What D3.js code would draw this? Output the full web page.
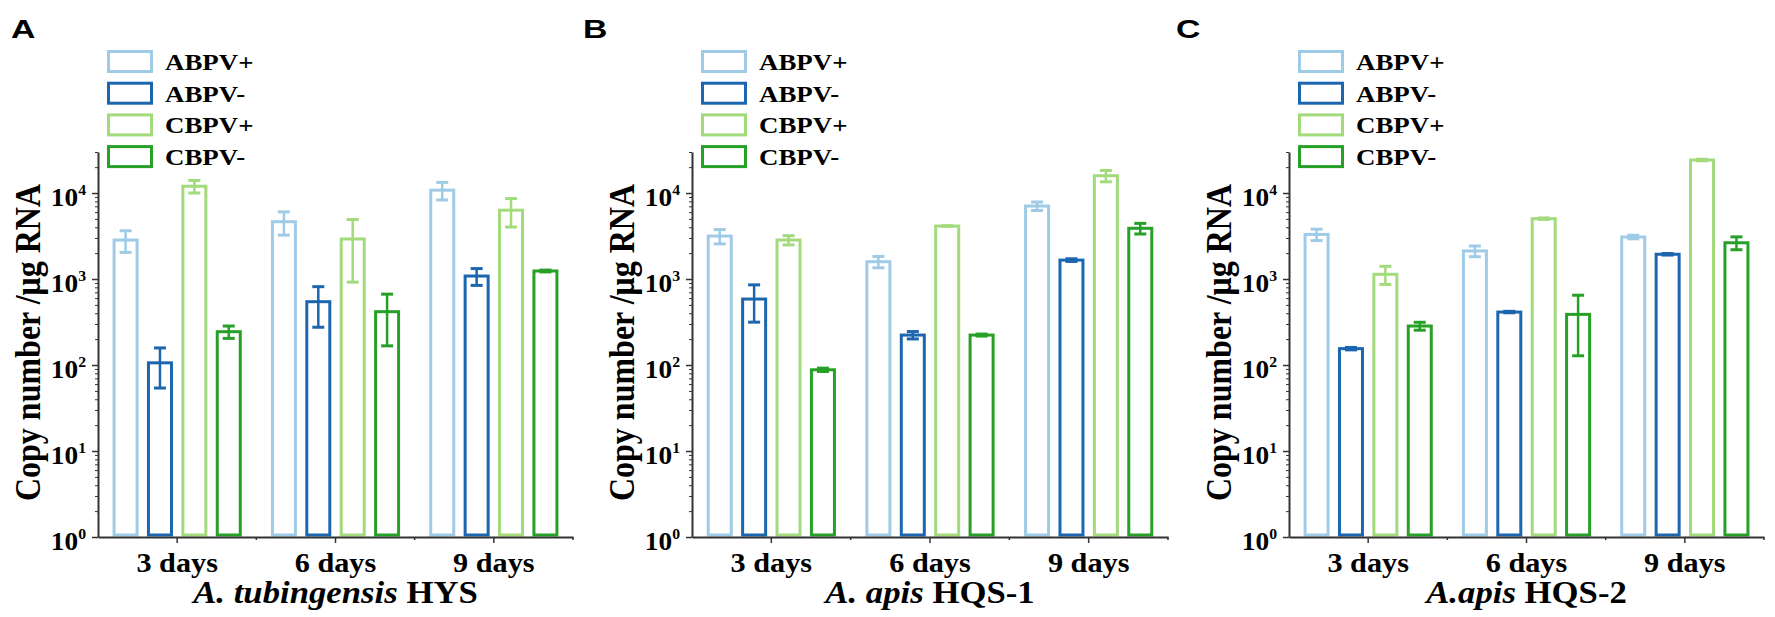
<!DOCTYPE html>
<html>
<head>
<meta charset="utf-8">
<script src="https://cdn.jsdelivr.net/npm/d3@7"></script>
<style>
  html, body { margin: 0; padding: 0; background: #fff; }
  svg { display: block; }
</style>
</head>
<body>
<svg id="chart" width="1775" height="617"></svg>
<script>
// ---------- DATA ----------
const categories = ["3 days", "6 days", "9 days"];
const series = ["ABPV+", "ABPV-", "CBPV+", "CBPV-"];
const panelLetters = ["A", "B", "C"];
const titleItalic = ["A. tubingensis", "A. apis", "A.apis"];
const titleNormal = [" HYS", " HQS-1", " HQS-2"];
const yTickValues = [1, 10, 100, 1000, 10000];
const yTickExponents = ["0", "1", "2", "3", "4"];

// Panel A: A. tubingensis HYS
const A_ABPVplus  = [2840, 4640, 10800];
const A_ABPVminus = [106, 545, 1083];
const A_CBPVplus  = [12000, 2920, 6320];
const A_CBPVminus = [244, 417, 1240];
const A_ABPVplus_sd  = [800, 1400, 2500];
const A_ABPVminus_sd = [52, 270, 240];
const A_CBPVplus_sd  = [2000, 2000, 2300];
const A_CBPVminus_sd = [40, 250, 30];

// Panel B: A. apis HQS-1
const B_ABPVplus  = [3160, 1590, 7060];
const B_ABPVminus = [585, 223, 1660];
const B_CBPVplus  = [2840, 4130, 15900];
const B_CBPVminus = [88, 223, 3890];
const B_ABPVplus_sd  = [600, 240, 800];
const B_ABPVminus_sd = [270, 22, 60];
const B_CBPVplus_sd  = [350, 20, 2400];
const B_CBPVminus_sd = [4, 6, 550];

// Panel C: A.apis HQS-2
const C_ABPVplus  = [3300, 2120, 3080];
const C_ABPVminus = [155, 413, 1940];
const C_CBPVplus  = [1135, 5030, 24200];
const C_CBPVminus = [284, 388, 2640];
const C_ABPVplus_sd  = [500, 300, 150];
const C_ABPVminus_sd = [5, 8, 40];
const C_CBPVplus_sd  = [270, 100, 500];
const C_CBPVminus_sd = [30, 260, 450];

// ---------- STYLE ----------
const colors = { "ABPV+": "#9fcbe6", "ABPV-": "#1c66b0", "CBPV+": "#a3da7c", "CBPV-": "#26a026" };
const serif = "'Liberation Serif', 'Times New Roman', serif";
const sans = "'Liberation Sans', Arial, sans-serif";
const SX = 1.12;
const axisColor = "#333";

const panels = [
  { means: [A_ABPVplus, A_ABPVminus, A_CBPVplus, A_CBPVminus], sds: [A_ABPVplus_sd, A_ABPVminus_sd, A_CBPVplus_sd, A_CBPVminus_sd], x0: 98, x1: 573, letterX: 11 },
  { means: [B_ABPVplus, B_ABPVminus, B_CBPVplus, B_CBPVminus], sds: [B_ABPVplus_sd, B_ABPVminus_sd, B_CBPVplus_sd, B_CBPVminus_sd], x0: 692, x1: 1168, letterX: 583 },
  { means: [C_ABPVplus, C_ABPVminus, C_CBPVplus, C_CBPVminus], sds: [C_ABPVplus_sd, C_ABPVminus_sd, C_CBPVplus_sd, C_CBPVminus_sd], x0: 1289, x1: 1764, letterX: 1176 }
];

const svg = d3.select("#chart");
const y = d3.scaleLog().domain([1, 30000]).range([537, 152]);

function stext(parent, x, yy, sx, anchor, size, weight, fam) {
  const g = parent.append("g").attr("transform", `translate(${x},${yy}) scale(${sx},1)`);
  return g.append("text").attr("text-anchor", anchor).attr("font-size", size)
    .attr("font-weight", weight).attr("font-family", fam).attr("fill", "#000");
}

// minor ticks
const minorTicks = [];
for (let d = 1; d <= 10000; d *= 10) for (let k = 2; k <= 9; k++) if (d * k <= 30000) minorTicks.push(d * k);

panels.forEach((p, pi) => {
  const g = svg.append("g");
  const xCat = d3.scaleBand().domain(categories).range([p.x0, p.x1]);
  const xSub = d3.scaleBand().domain(series).range([-68.8, 68.8]).paddingInner(0.244).paddingOuter(0.122);
  const bw = xSub.bandwidth();

  // bars
  series.forEach((s, si) => {
    const rows = categories.map((c, ci) => ({ c, v: p.means[si][ci], sd: p.sds[si][ci] }));
    const cx = d => xCat(d.c) + xCat.bandwidth() / 2 + xSub(s);
    g.selectAll(null).data(rows).join("rect")
      .attr("x", d => cx(d) + 1.5)
      .attr("width", bw - 3)
      .attr("y", d => y(d.v))
      .attr("height", d => y(1) - 2 - y(d.v))
      .attr("fill", "none").attr("stroke", colors[s]).attr("stroke-width", 3);
    // error bars
    g.selectAll(null).data(rows).join("line")
      .attr("x1", d => cx(d) + bw / 2).attr("x2", d => cx(d) + bw / 2)
      .attr("y1", d => y(Math.max(d.v - d.sd, 1))).attr("y2", d => y(d.v + d.sd))
      .attr("stroke", colors[s]).attr("stroke-width", 2.5);
    ["lo", "hi"].forEach(k => {
      g.selectAll(null).data(rows).join("line")
        .attr("x1", d => cx(d) + bw / 2 - 6).attr("x2", d => cx(d) + bw / 2 + 6)
        .attr("y1", d => y(k === "hi" ? d.v + d.sd : Math.max(d.v - d.sd, 1)))
        .attr("y2", d => y(k === "hi" ? d.v + d.sd : Math.max(d.v - d.sd, 1)))
        .attr("stroke", colors[s]).attr("stroke-width", 3);
    });
  });

  // y axis
  const yAxis = g.append("g").attr("transform", `translate(${p.x0},0)`)
    .call(d3.axisLeft(y).tickValues(yTickValues).tickFormat(() => "").tickSize(6).tickSizeOuter(0));
  yAxis.select(".domain").attr("stroke", axisColor).attr("stroke-width", 2);
  yAxis.selectAll(".tick line").attr("stroke", axisColor).attr("stroke-width", 1.5);
  const yMinor = g.append("g").attr("transform", `translate(${p.x0},0)`)
    .call(d3.axisLeft(y).tickValues(minorTicks).tickFormat(() => "").tickSize(3).tickSizeOuter(0));
  yMinor.select(".domain").remove();
  yMinor.selectAll(".tick line").attr("stroke", axisColor).attr("stroke-width", 1);

  yTickValues.forEach((v, i) => {
    const t = stext(g, p.x0 - 12, y(v) + 13, 1.05, "end", 26, "bold", serif);
    t.append("tspan").text("10");
    t.append("tspan").attr("dy", -11).attr("font-size", 15).text(yTickExponents[i]);
  });

  // x axis
  const xAxis = g.append("g").attr("transform", `translate(0,${y(1)})`)
    .call(d3.axisBottom(xCat).tickFormat(() => "").tickSize(6).tickSizeOuter(0));
  xAxis.select(".domain").attr("stroke", axisColor).attr("stroke-width", 2);
  xAxis.selectAll(".tick line").attr("stroke", axisColor).attr("stroke-width", 1.5);
  const edges = categories.slice(1).map(c => xCat(c)).concat([p.x1]);
  g.selectAll(null).data(edges).join("line")
    .attr("x1", d => d).attr("x2", d => d)
    .attr("y1", y(1)).attr("y2", y(1) + 3)
    .attr("stroke", axisColor).attr("stroke-width", 1.5);

  categories.forEach(c => {
    stext(g, xCat(c) + xCat.bandwidth() / 2, 572, SX, "middle", 27, "bold", serif).text(c);
  });

  // x title
  const xt = stext(g, (p.x0 + p.x1) / 2, 603, SX, "middle", 31, "bold", serif);
  xt.append("tspan").attr("font-style", "italic").text(titleItalic[pi]);
  xt.append("tspan").text(titleNormal[pi]);

  // y title
  const yg = g.append("g").attr("transform", `translate(${p.x0 - 58},${(y(1) + y(30000)) / 2 - 2}) scale(${SX},1) rotate(-90)`);
  yg.append("text").attr("text-anchor", "middle").attr("font-size", 32).attr("font-weight", "bold")
    .attr("font-family", serif).attr("fill", "#000").text("Copy number /μg RNA");

  // legend
  series.forEach((s, si) => {
    const top = 50 + si * 31.7;
    g.append("rect").attr("x", p.x0 + 9 + 1.5).attr("y", top + 1.5).attr("width", 43).attr("height", 20)
      .attr("fill", "none").attr("stroke", colors[s]).attr("stroke-width", 3);
    stext(g, p.x0 + 67, top + 20, SX, "start", 24, "bold", serif).text(s);
  });

  // panel letter
  stext(g, p.letterX, 38, 1.3, "start", 26, "bold", sans).text(panelLetters[pi]);
});
</script>
</body>
</html>
